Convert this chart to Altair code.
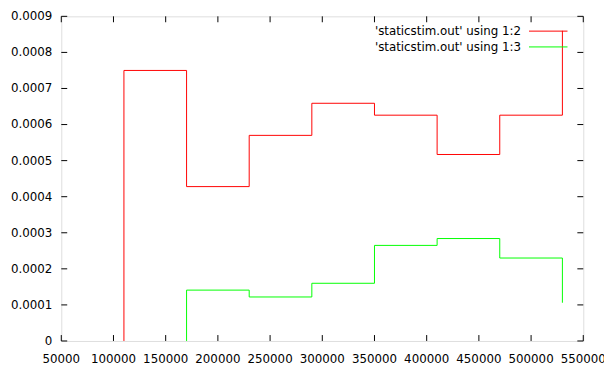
import altair as alt
import pandas as pd

# Bin edges of the histogram steps (x) and the step levels
edges = [110000, 170000, 230000, 290000, 350000, 410000, 470000, 530000]
red_levels = [0.00075, 0.000428, 0.00057, 0.000659, 0.000626, 0.000517, 0.000626]
red_end = 0.00086
green_start = 170000
green_levels = [0.000141, 0.000122, 0.00016, 0.000265, 0.000284, 0.00023]
green_end = 0.000106

x_ticks = [50000, 100000, 150000, 200000, 250000, 300000, 350000, 400000, 450000, 500000, 550000]
y_ticks = [0, 0.0001, 0.0002, 0.0003, 0.0004, 0.0005, 0.0006, 0.0007, 0.0008, 0.0009]

series_names = ["'staticstim.out' using 1:2", "'staticstim.out' using 1:3"]
series_colors = ["#ff0000", "#00ff00"]

W, H = 529, 329

rows = []
# red: rises from 0 at first edge, steps, ends with vertical at last edge
rx = [edges[0]] + edges[:-1] + [edges[-1]]
ry = [0] + red_levels + [red_end]
for i, (a, b) in enumerate(zip(rx, ry)):
    rows.append({"x": a, "y": b, "s": series_names[0], "i": i})
g_edges = [e for e in edges if e >= green_start]
gx = [g_edges[0]] + g_edges[:-1] + [g_edges[-1]]
gy = [0] + green_levels + [green_end]
for i, (a, b) in enumerate(zip(gx, gy)):
    rows.append({"x": a, "y": b, "s": series_names[1], "i": i})
df = pd.DataFrame(rows)

xs = alt.Scale(domain=[50000, 550000], nice=False, zero=False)
ys = alt.Scale(domain=[0, 0.0009], nice=False)

lines = alt.Chart(df).mark_line(interpolate="step-after", strokeWidth=1, clip=True).encode(
    x=alt.X("x:Q", scale=xs, axis=None),
    y=alt.Y("y:Q", scale=ys, axis=None),
    color=alt.Color("s:N", scale=alt.Scale(domain=series_names, range=series_colors), legend=None),
    order="i:Q",
)

xt = pd.DataFrame({"v": x_ticks, "lab": [str(v) for v in x_ticks]})
yt = pd.DataFrame({"v": y_ticks,
                   "lab": ["0" if v == 0 else f"{v:.4f}" for v in y_ticks]})
tick_len = 6
bot = alt.Chart(xt).mark_rule(color="#000", strokeWidth=1).encode(
    x=alt.X("v:Q", scale=xs, axis=None), y=alt.value(H), y2=alt.value(H - tick_len))
top = alt.Chart(xt).mark_rule(color="#000", strokeWidth=1).encode(
    x=alt.X("v:Q", scale=xs, axis=None), y=alt.value(0), y2=alt.value(tick_len))
left = alt.Chart(yt).mark_rule(color="#000", strokeWidth=1).encode(
    y=alt.Y("v:Q", scale=ys, axis=None), x=alt.value(0), x2=alt.value(tick_len))
right = alt.Chart(yt).mark_rule(color="#000", strokeWidth=1).encode(
    y=alt.Y("v:Q", scale=ys, axis=None), x=alt.value(W), x2=alt.value(W - tick_len))
ylabels = alt.Chart(yt).mark_text(align="right", baseline="middle", fontSize=12,
                                  font="DejaVu Sans", color="#000").encode(
    y=alt.Y("v:Q", scale=ys, axis=None), x=alt.value(-9), text="lab:N")
xlabels = alt.Chart(xt).mark_text(align="center", baseline="middle", fontSize=12,
                                  font="DejaVu Sans", color="#000").encode(
    x=alt.X("v:Q", scale=xs, axis=None), y=alt.value(H + 18), text="lab:N")

leg = pd.DataFrame({"name": series_names, "color": series_colors, "row": [15, 31]})
leg_text = alt.Chart(leg).mark_text(align="right", baseline="middle", fontSize=12,
                                    font="DejaVu Sans", color="#000").encode(
    x=alt.value(466), y=alt.Y("row:Q", scale=None), text="name:N")
leg_line = alt.Chart(leg).mark_rule(strokeWidth=1).encode(
    x=alt.value(474), x2=alt.value(513), y=alt.Y("row:Q", scale=None),
    color=alt.Color("color:N", scale=None))

chart = alt.layer(lines, bot, top, left, right, ylabels, xlabels, leg_line, leg_text).resolve_scale(
    color="independent").properties(
    width=W, height=H,
    autosize=alt.AutoSizeParams(type="none"),
    padding={"left": 54, "top": 6, "right": 21, "bottom": 30},
).configure_view(stroke="#000", strokeWidth=1).configure(background="white")

chart.save("out.html", embed_options={"renderer": "svg", "actions": False})
